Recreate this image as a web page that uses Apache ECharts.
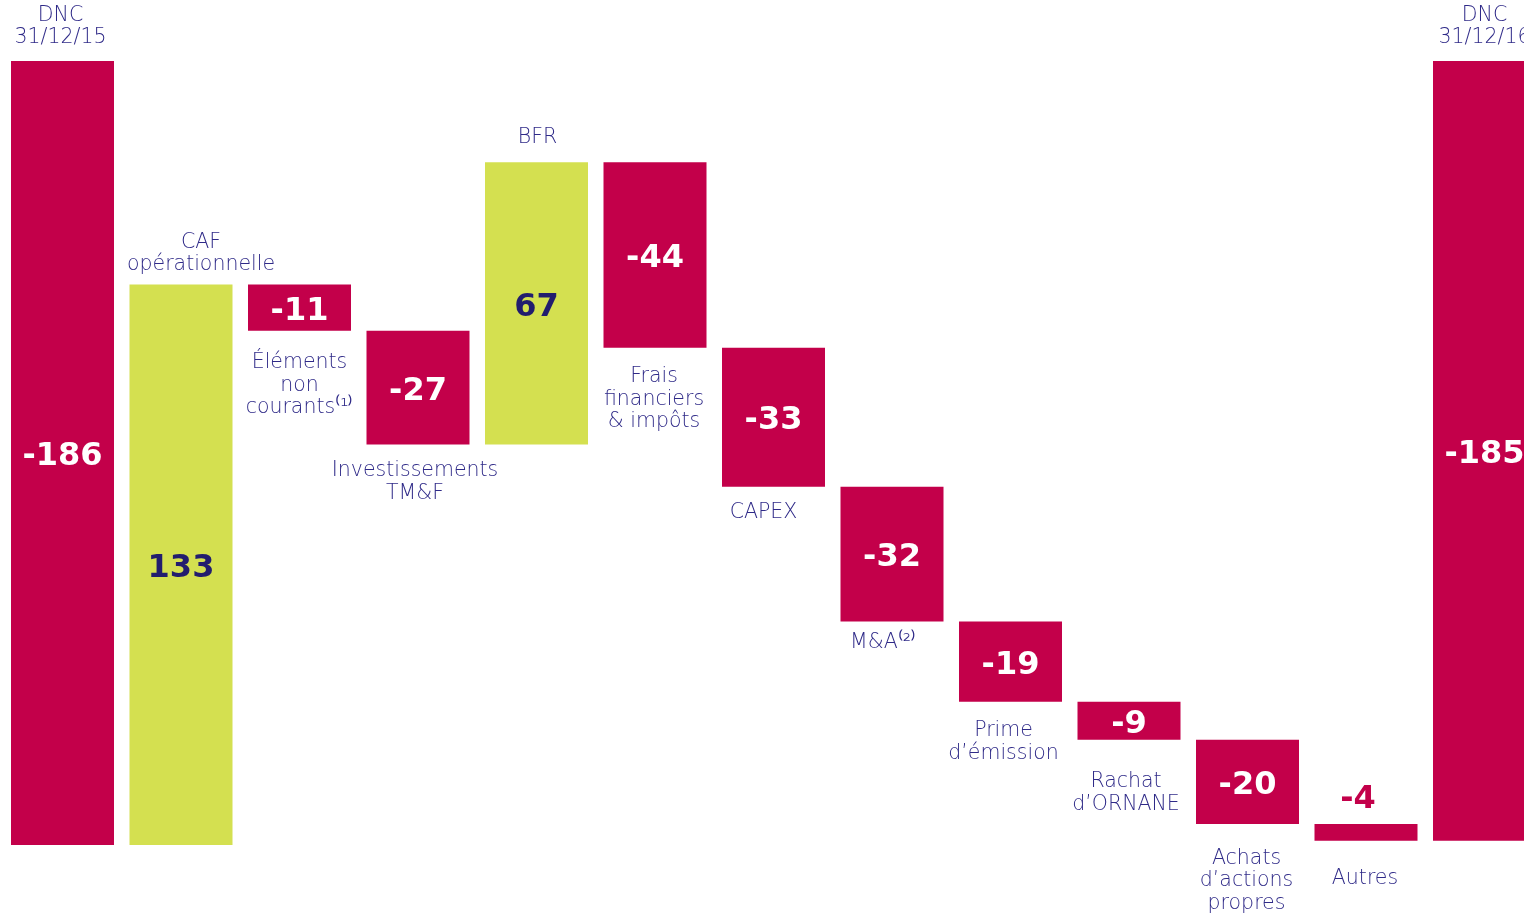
<!DOCTYPE html>
<html>
<head>
<meta charset="utf-8">
<script src="https://cdn.jsdelivr.net/npm/echarts@6/dist/echarts.min.js"></script>
<style>
html,body{margin:0;padding:0;background:#fff;}
#chart{width:1524px;height:913px;}
</style>
</head>
<body>
<div id="chart"></div>
<script>
// ---- data ----
const categories = [
  'DNC\n31/12/15',
  'CAF\nopérationnelle',
  'Éléments\nnon\ncourants⁽¹⁾',
  'Investissements\nTM&F',
  'BFR',
  'Frais\nfinanciers\n& impôts',
  'CAPEX',
  'M&A⁽²⁾',
  'Prime\nd’émission',
  'Rachat\nd’ORNANE',
  'Achats\nd’actions\npropres',
  'Autres',
  'DNC\n31/12/16'
];
const values = [-186, 133, -11, -27, 67, -44, -33, -32, -19, -9, -20, -4, -185];
const kinds = ['total','flow','flow','flow','flow','flow','flow','flow','flow','flow','flow','flow','total'];

// ---- layout / style (not data) ----
const CRIMSON = '#C3004A';
const LIME = '#D4E050';
const NAVY = '#2F2A88';
const DARK = '#221D6E';
const BAR_W = 103;
const nameLayout = [
  {side:'top', dx:-2, gap:12},
  {side:'top', dx:20, gap:8},
  {side:'bottom', dx:0, gap:21},
  {side:'bottom', dx:-3, gap:15},
  {side:'top', dx:1, gap:13},
  {side:'bottom', dx:-1, gap:18},
  {side:'bottom', dx:-10, gap:15},
  {side:'bottom', dx:-9, gap:10},
  {side:'bottom', dx:-7, gap:18},
  {side:'bottom', dx:-3, gap:31},
  {side:'bottom', dx:-1, gap:23},
  {side:'bottom', dx:-1, gap:27},
  {side:'top', dx:0, gap:12}
];
// band width 118.5px: grid from x=3.25 to 1524 covers 1520.75px
const BAND = 118.5;
const XMIN = -0.5;
const XMAX = XMIN + (1524 - 3.25) / BAND;

// ---- waterfall geometry from values ----
const bases = [], tops = [];
let running = 0;
values.forEach((v, i) => {
  if (kinds[i] === 'total') {
    const b = i === 0 ? 0 : running;
    bases.push(b); tops.push(b + Math.abs(v));
  } else if (v >= 0) {
    bases.push(running); running += v; tops.push(running);
  } else {
    tops.push(running); running += v; bases.push(running);
  }
});

const barData = values.map((v, i) => [i, bases[i], tops[i], v]);

const chart = echarts.init(document.getElementById('chart'));
chart.setOption({
  animation: false,
  backgroundColor: '#ffffff',
  grid: {left: 3.25, right: 0, top: 2, bottom: 68, containLabel: false},
  xAxis: {type:'value', min: XMIN, max: XMAX, show: false},
  yAxis: {type:'value', min: 0, max: 200, show: false},
  series: [
    {
      type: 'custom',
      data: barData,
      clip: false,
      renderItem: function (params, api) {
        const i = api.value(0);
        const p0 = api.coord([i, api.value(1)]);
        const p1 = api.coord([i, api.value(2)]);
        const v = values[i];
        const pos = kinds[i] === 'flow' && v > 0;
        const h = p0[1] - p1[1];
        const small = h < 25;
        const cx = p0[0];
        const children = [{
          type: 'rect',
          shape: {x: cx - BAR_W / 2, y: p1[1], width: BAR_W, height: h},
          style: {fill: pos ? LIME : CRIMSON}
        }];
        children.push({
          type: 'text',
          x: small ? cx - 8 : cx,
          y: small ? p1[1] - 8 : (p0[1] + p1[1]) / 2 + 4,
          style: {
            text: String(v),
            fill: small ? CRIMSON : (pos ? DARK : '#ffffff'),
            fontFamily: 'DejaVu Sans',
            fontWeight: 'bold',
            fontSize: 32,
            align: 'center',
            verticalAlign: small ? 'bottom' : 'middle'
          }
        });
        const lay = nameLayout[i];
        const ref = lay.side === 'top' ? p1 : p0;
        children.push({
          type: 'text',
          x: cx + lay.dx,
          y: lay.side === 'top' ? ref[1] - lay.gap : ref[1] + lay.gap,
          style: {
            text: categories[i],
            fill: NAVY,
            fontFamily: 'DejaVu Sans',
            fontWeight: 200,
            fontSize: 20.5,
            lineHeight: 22.5,
            align: 'center',
            verticalAlign: lay.side === 'top' ? 'bottom' : 'top'
          }
        });
        return {type: 'group', children: children};
      }
    }
  ]
});
</script>
</body>
</html>
